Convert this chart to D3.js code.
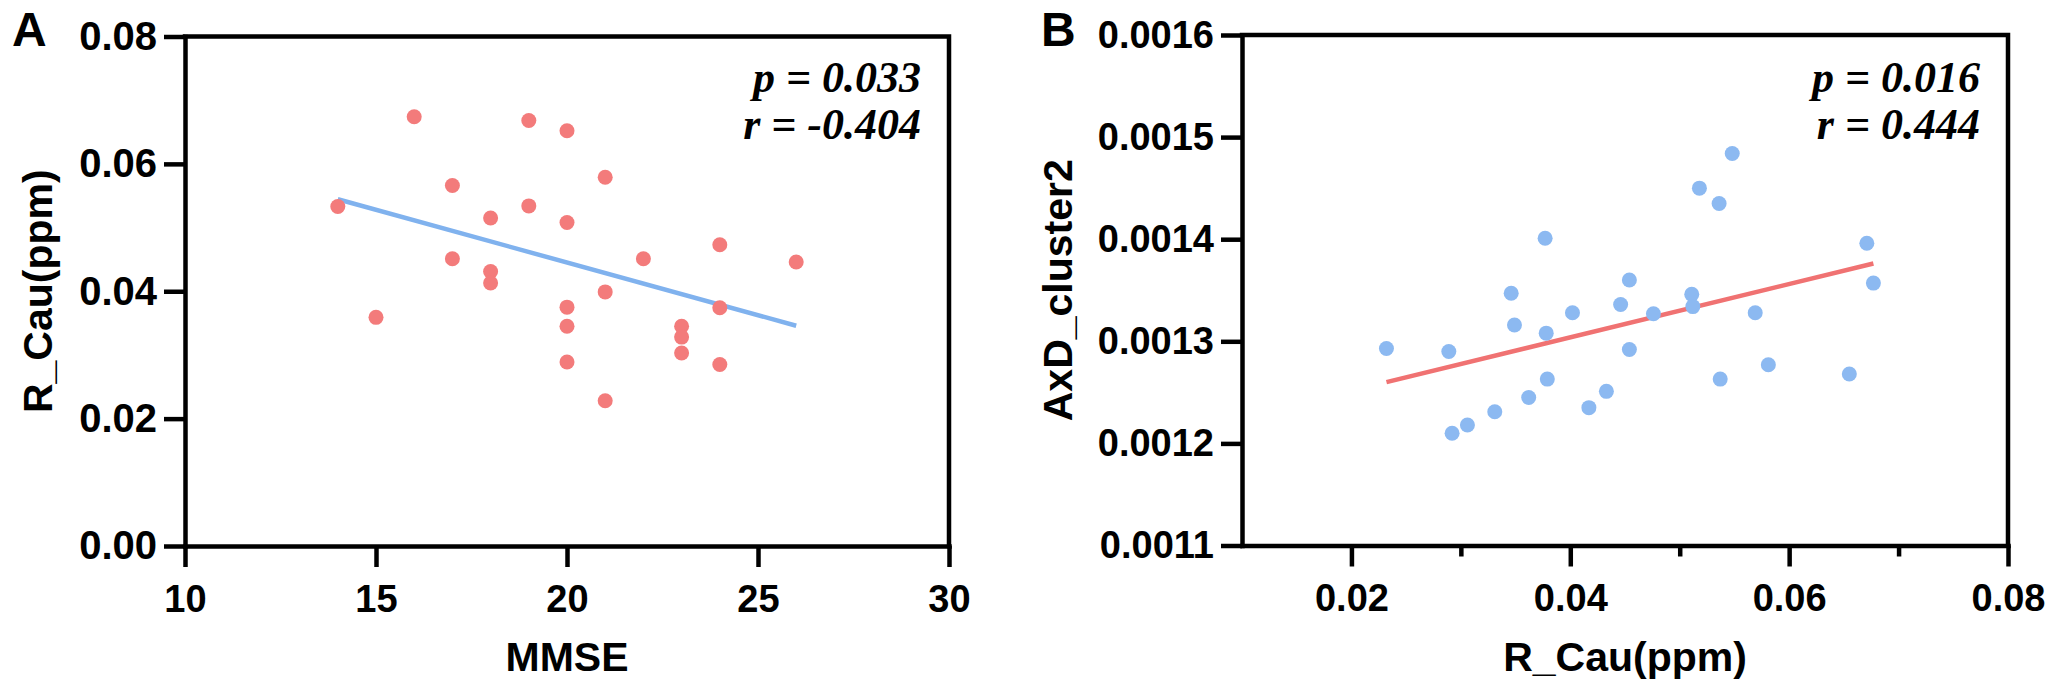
<!DOCTYPE html>
<html>
<head>
<meta charset="utf-8">
<script src="https://cdn.jsdelivr.net/npm/d3@7"></script>
<style>
  body { margin: 0; background: #fff; }
  svg { display: block; }
  text { font-family: "Liberation Sans", Arial, sans-serif; font-weight: bold; fill: #000; }
  .stat { font-family: "Liberation Serif", "Times New Roman", serif; font-style: italic; font-weight: bold; }
</style>
</head>
<body>
<svg width="2060" height="692"></svg>
<script>
// panel A: MMSE vs R_Cau
var mmse = [14, 15, 16, 17, 17, 18, 18, 18, 19, 19, 20, 20, 20, 20, 20,
  21, 21, 21, 22, 23, 23, 23, 24, 24, 24, 26]
var rCauA = [0.0533, 0.0359, 0.0674, 0.0566, 0.0451, 0.0515, 0.0431, 0.0413,
  0.0668, 0.0534, 0.0652, 0.0508, 0.0375, 0.0345, 0.0289, 0.0579, 0.0399,
  0.0228, 0.0451, 0.0345, 0.0328, 0.0303, 0.0473, 0.0374, 0.0285, 0.0446]

// panel B: R_Cau vs AxD_cluster2
var rCauB = [0.0232, 0.0289, 0.0292, 0.0306, 0.0331, 0.0346, 0.0349, 0.0362,
  0.0377, 0.0378, 0.0379, 0.0402, 0.0417, 0.0433, 0.0446, 0.0454, 0.0454,
  0.0476, 0.0511, 0.0512, 0.0518, 0.0536, 0.0537, 0.0548, 0.0569, 0.0581,
  0.0655, 0.0671, 0.0677]
var axdCluster2 = [0.001293, 0.001290, 0.001210, 0.001218, 0.001231, 0.001347,
  0.001316, 0.001245, 0.001401, 0.001308, 0.001263, 0.001328, 0.001235,
  0.001251, 0.001336, 0.001360, 0.001292, 0.001327, 0.001346, 0.001334,
  0.001450, 0.001435, 0.001263, 0.001484, 0.001328, 0.001277, 0.001268,
  0.001396, 0.001357]

var ticksAx = [10, 15, 20, 25, 30]
var ticksAy = [0, 0.02, 0.04, 0.06, 0.08]
var ticksBx = [0.02, 0.04, 0.06, 0.08]
var ticksBxMinor = [0.03, 0.05, 0.07]
var ticksBy = [0.0011, 0.0012, 0.0013, 0.0014, 0.0015, 0.0016]

var statsA = ['p = 0.033', 'r = -0.404']
var statsB = ['p = 0.016', 'r = 0.444']

var svg = d3.select('svg')
var lw = 4.5

function fit(xs, ys){
  var mx = d3.mean(xs), my = d3.mean(ys)
  var sxy = d3.sum(xs, (x, i) => (x - mx) * (ys[i] - my))
  var sxx = d3.sum(xs, x => (x - mx) * (x - mx))
  var b = sxy / sxx
  return x => my + b * (x - mx)
}

function drawPanel(c){
  var g = svg.append('g')
  var x = d3.scaleLinear().domain(c.xDomain).range([c.left, c.right])
  var y = d3.scaleLinear().domain(c.yDomain).range([c.bottom, c.top])

  // frame top + right
  g.append('path')
    .attr('d', `M${x(c.xDomain[0])},${y(c.yDomain[1])}H${x(c.xDomain[1])}V${y(c.yDomain[0])}`)
    .attr('fill', 'none').attr('stroke', '#000').attr('stroke-width', lw)
    .attr('stroke-linecap', 'square')

  var xAxis = g.append('g').attr('transform', `translate(0,${c.bottom})`)
    .call(d3.axisBottom(x).tickValues(c.xTicks).tickFormat(d3.format(c.xFmt))
      .tickSize(21).tickSizeOuter(0).tickPadding(18))
  if (c.xMinor){
    g.append('g').attr('transform', `translate(0,${c.bottom})`)
      .call(d3.axisBottom(x).tickValues(c.xMinor).tickFormat('').tickSize(11).tickSizeOuter(0))
      .call(a => a.select('.domain').remove())
      .selectAll('line').attr('stroke-width', lw)
  }
  var yAxis = g.append('g').attr('transform', `translate(${c.left},0)`)
    .call(d3.axisLeft(y).tickValues(c.yTicks).tickFormat(d3.format(c.yFmt))
      .tickSize(21).tickSizeOuter(0).tickPadding(7))

  ;[xAxis, yAxis].forEach(a => {
    a.attr('font-family', null).attr('font-size', null)
    a.select('.domain').attr('stroke-width', lw).attr('stroke-linecap', 'square')
    a.selectAll('.tick line').attr('stroke-width', lw)
  })
  xAxis.selectAll('text').style('font-size', c.xFont + 'px')
  yAxis.selectAll('text').style('font-size', c.yFont + 'px')

  // regression line
  var f = fit(c.xs, c.ys)
  var ext = d3.extent(c.xs)
  g.append('line')
    .attr('x1', x(ext[0])).attr('y1', y(f(ext[0])))
    .attr('x2', x(ext[1])).attr('y2', y(f(ext[1])))
    .attr('stroke', c.lineColor).attr('stroke-width', 4.5)

  g.selectAll('circle.pt').data(c.xs).join('circle')
    .attr('class', 'pt')
    .attr('cx', d => x(d))
    .attr('cy', (d, i) => y(c.ys[i]))
    .attr('r', 7.5)
    .attr('fill', c.dotColor)

  g.append('text').text(c.xLabel)
    .attr('x', (c.left + c.right) / 2).attr('y', 671)
    .attr('text-anchor', 'middle').style('font-size', '41px')

  g.append('text').text(c.yLabel)
    .attr('transform', `translate(${c.yLabelX},${(c.top + c.bottom) / 2}) rotate(-90)`)
    .attr('text-anchor', 'middle').style('font-size', '41px')

  g.append('text').text(c.letter)
    .attr('x', c.letterX).attr('y', 46).style('font-size', '48px')

  g.selectAll('text.stat').data(c.stats).join('text')
    .attr('class', 'stat')
    .attr('x', c.right - 28)
    .attr('y', (d, i) => 92 + i * 47)
    .attr('text-anchor', 'end')
    .style('font-size', '44px')
    .text(d => d)
}

drawPanel({
  xs: mmse, ys: rCauA,
  xDomain: [10, 30], yDomain: [0, 0.08],
  left: 185, right: 949, top: 36.5, bottom: 546,
  xTicks: ticksAx, yTicks: ticksAy, xFmt: 'd', yFmt: '.2f',
  xFont: 38, yFont: 40,
  xLabel: 'MMSE', yLabel: 'R_Cau(ppm)', yLabelX: 52,
  letter: 'A', letterX: 12,
  dotColor: '#f37b7b', lineColor: '#80b2ee',
  stats: statsA
})

drawPanel({
  xs: rCauB, ys: axdCluster2,
  xDomain: [0.01, 0.08], yDomain: [0.0011, 0.0016],
  left: 1242, right: 2008, top: 35, bottom: 545.5,
  xTicks: ticksBx, xMinor: ticksBxMinor, yTicks: ticksBy, xFmt: '.2f', yFmt: '.4f',
  xFont: 38, yFont: 38,
  xLabel: 'R_Cau(ppm)', yLabel: 'AxD_cluster2', yLabelX: 1072,
  letter: 'B', letterX: 1041,
  dotColor: '#8cb9f1', lineColor: '#f07272',
  stats: statsB
})
</script>
</body>
</html>
